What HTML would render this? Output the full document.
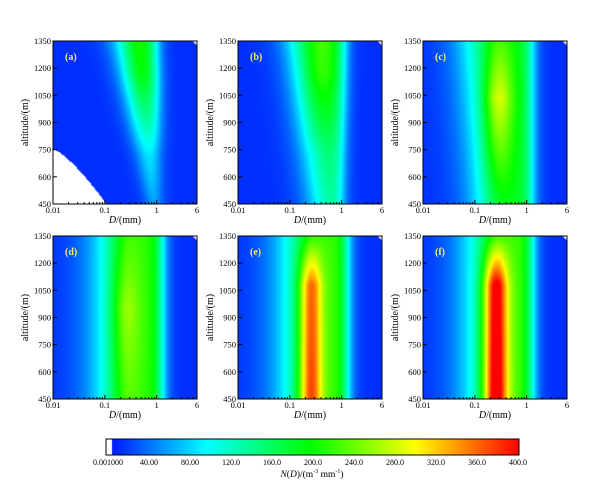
<!DOCTYPE html>
<html><head><meta charset="utf-8"><style>
body{margin:0;background:#fff;width:600px;height:500px;overflow:hidden;position:relative;font-family:"Liberation Serif",serif;}
canvas{position:absolute;}
svg{position:absolute;left:0;top:0;}
</style></head><body>
<canvas id="c0" width="144" height="163" style="left:53px;top:41px"></canvas>
<canvas id="c1" width="144" height="163" style="left:238px;top:41px"></canvas>
<canvas id="c2" width="144" height="163" style="left:423px;top:41px"></canvas>
<canvas id="c3" width="144" height="163" style="left:53px;top:236px"></canvas>
<canvas id="c4" width="144" height="163" style="left:238px;top:236px"></canvas>
<canvas id="c5" width="144" height="163" style="left:423px;top:236px"></canvas>
<canvas id="cb" width="413" height="16" style="left:106px;top:439px"></canvas>
<svg id="ov" width="600" height="500" font-family="Liberation Serif, serif"></svg>
<script>
function cmap(v){
 var s=[[0,0,0,255],[100,0,255,255],[200,0,255,0],[300,255,255,0],[400,255,0,0]];
 if(v<=0)return s[0].slice(1);if(v>=400)return s[4].slice(1);
 for(var i=0;i<4;i++){if(v<=s[i+1][0]){var t=(v-s[i][0])/100;return [0,1,2].map(function(k){return s[i][k+1]+(s[i+1][k+1]-s[i][k+1])*t;});}}
}
function lerp(a,b,t){t=Math.max(0,Math.min(1,t));return a+(b-a)*t;}
function S(x){return 1/(1+Math.exp(-x));}
// returns [A2 plateau, L, R, wl, A1 core, c, s]
var P=[
 function(h){return [lerp(85,130,h), lerp(-0.12,-0.75,h), lerp(0.03,0.0,h), lerp(0.08,0.16,h), lerp(0,70,(h-0.3)/0.5), lerp(-0.05,-0.35,h), 0.22];},
 function(h){return [lerp(150,165,h), lerp(-0.5,-0.95,h), lerp(0.0,0.05,h), 0.18, lerp(0,50,(h-0.3)/0.5), -0.4, 0.25];},
 function(h){return [180, lerp(-0.85,-1.1,h), 0.1, 0.25, h<0.65?lerp(25,110,h/0.65):lerp(110,45,(h-0.65)/0.35), -0.55, 0.2];},
 function(h){return [210,-0.95,0.1,0.28, h<0.55?lerp(45,75,h/0.55):lerp(75,35,(h-0.55)/0.45), -0.6, 0.2];},
 function(h){return [220,-0.95,0.1,0.28, h<0.7?lerp(185,170,h/0.7):lerp(170,30,(h-0.7)/0.28), -0.6, 0.16];},
 function(h){return [220,-0.95,0.1,0.28, h<0.7?lerp(240,225,h/0.7):lerp(225,40,(h-0.7)/0.28), -0.6, 0.17];}
];
for(var p=0;p<6;p++){
 var cv=document.getElementById('c'+p),ctx=cv.getContext('2d'),im=ctx.createImageData(144,163);
 for(var y=0;y<163;y++){var h=1-y/162;var pr=P[p](h);
  for(var x=0;x<144;x++){var u=-2+x/143*2.778;
   var v=18+pr[0]*S((u-pr[1])/pr[3])*S((pr[2]-u)/0.08)+pr[4]*Math.exp(-Math.pow((u-pr[5])/pr[6],2)/2);
   var c=cmap(v);var o=(y*144+x)*4;
   var white=false;
   if(p==0){var alt=450+900*h;if(alt<750){var t=(750-alt)/300;var ub=-2+Math.pow(t,0.75)*1.02;if(u<ub)white=true;}}
   if(x>139 && y<6 && (x-139)>y) white=true;
   if(white){c=[255,255,255];}
   im.data[o]=c[0];im.data[o+1]=c[1];im.data[o+2]=c[2];im.data[o+3]=255;}}
 ctx.putImageData(im,0,0);
}
var cb=document.getElementById('cb').getContext('2d');
for(var x=0;x<413;x++){var c=x<6?[255,255,255]:cmap(10+(x-6)/407*390);cb.fillStyle='rgb('+c.map(Math.round)+')';cb.fillRect(x,0,1,16);}
var svg='';
var X=[53,238,423],Y=[41,236],L=['(a)','(b)','(c)','(d)','(e)','(f)'];
for(var r=0;r<2;r++)for(var q=0;q<3;q++){
 var x0=X[q],y0=Y[r],w=144,hh=163;
 svg+='<rect x="'+x0+'" y="'+y0+'" width="'+w+'" height="'+hh+'" fill="none" stroke="#000" stroke-width="1"/>';
 for(var i=0;i<7;i++){var yy=y0+hh-i*hh/6;svg+='<line x1="'+x0+'" x2="'+(x0+4)+'" y1="'+yy+'" y2="'+yy+'" stroke="#000"/>';
  svg+='<text x="'+(x0-2)+'" y="'+(yy+3)+'" font-size="8.5" text-anchor="end">'+(450+150*i)+'</text>';}
 var pd=w/2.778;
 for(var dd=-2;dd<1;dd++)for(var m=1;m<10;m++){var val=Math.log10(m)+dd;if(val>0.7782)break;var xx=x0+(val+2)*pd;
  svg+='<line x1="'+xx+'" x2="'+xx+'" y1="'+(y0+hh)+'" y2="'+(y0+hh-(m==1?4:2))+'" stroke="#000"/>';}
 [['0.01',0],['0.1',1],['1',2],['6',2.778]].forEach(function(t){svg+='<text x="'+(x0+t[1]*pd)+'" y="'+(y0+hh+9)+'" font-size="8.5" text-anchor="middle">'+t[0]+'</text>';});
 svg+='<text x="'+(x0+w/2)+'" y="'+(y0+hh+19)+'" font-size="10" text-anchor="middle"><tspan font-style="italic">D</tspan>/(mm)</text>';
 svg+='<text transform="translate('+(x0-25)+','+(y0+hh/2)+') rotate(-90)" font-size="10" text-anchor="middle">altitude/(m)</text>';
 svg+='<text x="'+(x0+12)+'" y="'+(y0+19)+'" font-size="10" font-weight="bold" fill="#f0f060">'+L[r*3+q]+'</text>';
}
svg+='<rect x="106" y="439" width="413" height="16" fill="none" stroke="#000"/>';
var lab=['0.001000','40.00','80.00','120.0','160.0','200.0','240.0','280.0','320.0','360.0','400.0'];
lab.forEach(function(t,i){svg+='<text x="'+(108+i*41)+'" y="'+465+'" font-size="8" text-anchor="middle">'+t+'</text>';});
svg+='<text x="312" y="477" font-size="9.5" text-anchor="middle"><tspan font-style="italic">N</tspan>(<tspan font-style="italic">D</tspan>)/(m<tspan font-size="6" dy="-4">-3</tspan><tspan dy="4"> mm</tspan><tspan font-size="6" dy="-4">-1</tspan><tspan dy="4">)</tspan></text>';
document.getElementById('ov').innerHTML=svg;
</script>
</body></html>
